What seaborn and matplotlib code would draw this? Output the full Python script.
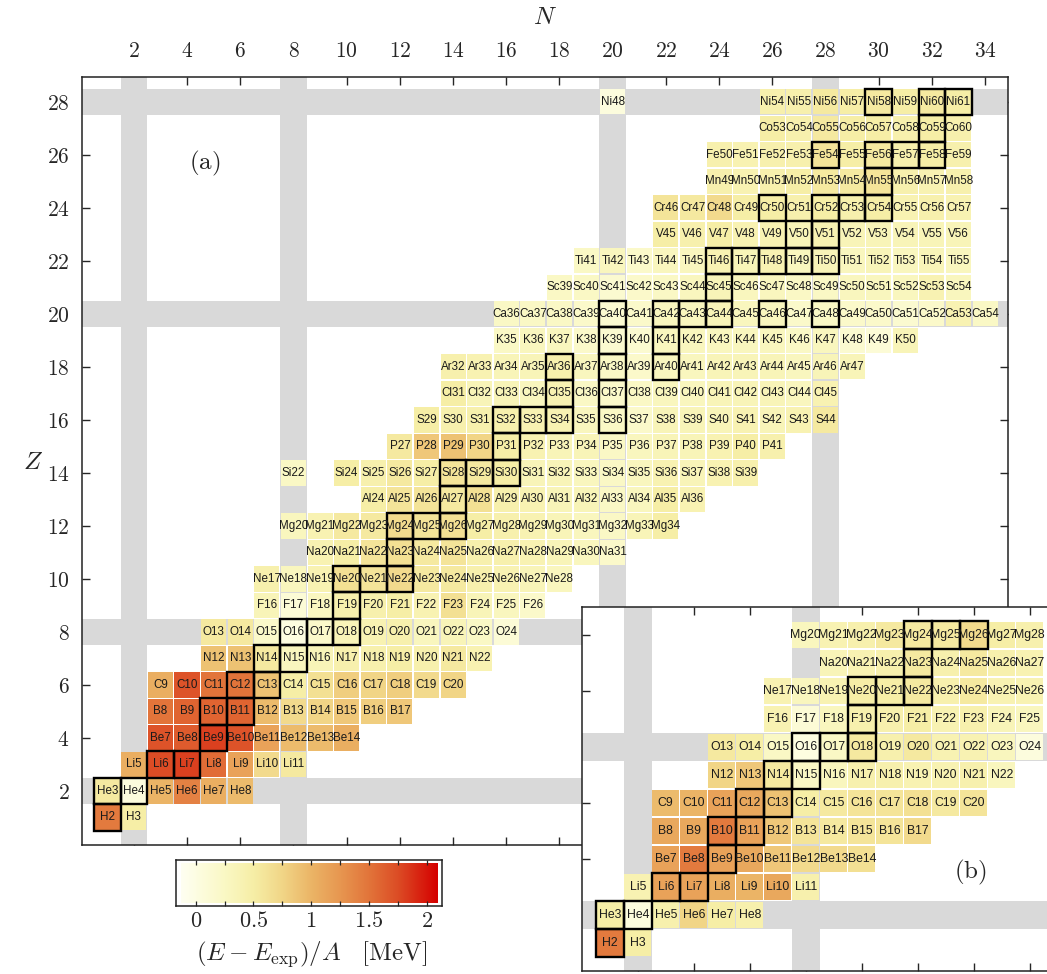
import numpy as np
import pandas as pd
import matplotlib
matplotlib.use("Agg")
import matplotlib.pyplot as plt
import seaborn as sns
from matplotlib.colors import LinearSegmentedColormap, Normalize
from matplotlib.patches import Rectangle

# ---- data -----------------------------------------------------------------
SYMBOLS = ["H", "He", "Li", "Be", "B", "C", "N", "O", "F", "Ne", "Na", "Mg", "Al", "Si",
           "P", "S", "Cl", "Ar", "K", "Ca", "Sc", "Ti", "V", "Cr", "Mn", "Fe", "Co", "Ni"]

# panel (a): first neutron number of each isotope chain (Z = 1..28)
main_first_N = [1, 1, 2, 3, 3, 3, 5, 5, 7, 7, 9, 8, 11, 10, 12, 13, 14, 14, 16, 16,
                18, 19, 22, 22, 24, 24, 26, 26]
# (E - Eexp)/A in MeV
main_values = [
    [1.45, 0.5],                                                        # H
    [0.55, 0.05, 1.0, 1.4, 1.05, 0.95],                                 # He
    [1.05, 1.75, 1.8, 1.55, 1.15, 0.7, 0.55],                           # Li
    [1.7, 1.65, 1.8, 1.7, 1.15, 0.95, 0.95, 1.05],                      # Be
    [1.5, 1.6, 1.6, 1.6, 0.95, 0.7, 0.75, 0.85, 0.8, 0.85],             # B
    [1.05, 1.7, 1.5, 1.5, 0.9, 0.5, 0.65, 0.8, 0.75, 0.8, 0.7, 0.75],   # C
    [0.9, 0.9, 0.55, 0.3, 0.35, 0.45, 0.45, 0.5, 0.45, 0.55, 0.4],      # N
    [0.55, 0.55, 0.2, 0.02, 0.2, 0.35, 0.4, 0.45, 0.3, 0.35, 0.25, 0.1],  # O
    [0.35, 0.1, 0.28, 0.45, 0.45, 0.5, 0.4, 0.65, 0.35, 0.3, 0.2],      # F
    [0.45, 0.3, 0.4, 0.65, 0.6, 0.7, 0.55, 0.55, 0.45, 0.4, 0.35, 0.3],  # Ne
    [0.4, 0.5, 0.6, 0.65, 0.55, 0.6, 0.45, 0.45, 0.4, 0.35, 0.3, 0.2],  # Na
    [0.3, 0.4, 0.55, 0.55, 0.7, 0.6, 0.65, 0.5, 0.45, 0.4, 0.35, 0.3, 0.25, 0.35, 0.5],  # Mg
    [0.5, 0.6, 0.6, 0.55, 0.65, 0.45, 0.4, 0.35, 0.35, 0.25, 0.3, 0.5, 0.4],  # Al
    [0.5, 0.45, 0.55, 0.5, 0.6, 0.55, 0.5, 0.35, 0.35, 0.3, 0.25, 0.3, 0.4, 0.35, 0.4, 0.45],  # Si
    [0.55, 0.85, 0.9, 0.75, 0.5, 0.4, 0.35, 0.35, 0.25, 0.3, 0.35, 0.35, 0.4, 0.5, 0.45],  # P
    [0.5, 0.45, 0.45, 0.45, 0.4, 0.4, 0.3, 0.25, 0.2, 0.35, 0.35, 0.35, 0.4, 0.35, 0.4, 0.55],  # S
    [0.5, 0.35, 0.35, 0.3, 0.4, 0.25, 0.2, 0.25, 0.3, 0.3, 0.35, 0.35, 0.35, 0.3, 0.4],  # Cl
    [0.45, 0.4, 0.35, 0.35, 0.45, 0.3, 0.25, 0.2, 0.3, 0.3, 0.35, 0.35, 0.35, 0.3, 0.35, 0.35],  # Ar
    [0.25, 0.3, 0.3, 0.2, 0.15, 0.15, 0.3, 0.3, 0.3, 0.3, 0.3, 0.25, 0.3, 0.15, 0.1, 0.35],  # K
    [0.25, 0.25, 0.25, 0.2, 0.15, 0.2, 0.3, 0.3, 0.35, 0.3, 0.3, 0.2, 0.25, 0.2, 0.2, 0.15,
     0.2, 0.4, 0.25],                                                   # Ca
    [0.25, 0.25, 0.15, 0.2, 0.25, 0.3, 0.35, 0.3, 0.3, 0.25, 0.25, 0.3, 0.3, 0.3, 0.4, 0.3],  # Sc
    [0.25, 0.3, 0.2, 0.3, 0.3, 0.4, 0.35, 0.4, 0.3, 0.35, 0.3, 0.35, 0.3, 0.35, 0.3],  # Ti
    [0.5, 0.45, 0.5, 0.4, 0.4, 0.35, 0.4, 0.35, 0.35, 0.35, 0.35, 0.35],  # V
    [0.6, 0.55, 0.7, 0.5, 0.5, 0.45, 0.5, 0.45, 0.5, 0.4, 0.45, 0.4],   # Cr
    [0.45, 0.4, 0.45, 0.5, 0.55, 0.55, 0.6, 0.45, 0.4, 0.45],           # Mn
    [0.45, 0.4, 0.45, 0.45, 0.6, 0.5, 0.55, 0.45, 0.5, 0.45],           # Fe
    [0.5, 0.45, 0.55, 0.5, 0.5, 0.45, 0.5, 0.45],                       # Co
    [0.45, 0.45, 0.55, 0.5, 0.55, 0.5, 0.55, 0.5],                      # Ni
]
# isolated nuclei outside the chains: (Z, N, value)
main_extra = [(14, 8, 0.25), (28, 20, 0.05)]

# panel (b): Z = 1..12
inset_first_N = [1, 1, 2, 3, 3, 3, 5, 5, 7, 7, 9, 8]
inset_values = [
    [1.45, 0.5],
    [0.5, 0.05, 0.45, 0.75, 0.5, 0.45],
    [0.4, 1.15, 1.15, 1.05, 1.0, 1.1, 0.45],
    [1.15, 1.45, 1.15, 1.1, 0.85, 0.7, 0.7, 0.65],
    [1.1, 1.1, 1.45, 1.15, 0.85, 0.6, 0.55, 0.6, 0.6, 0.7],
    [0.95, 1.0, 1.15, 1.1, 0.9, 0.5, 0.55, 0.6, 0.6, 0.65, 0.55, 0.6],
    [0.75, 0.85, 0.55, 0.25, 0.3, 0.45, 0.45, 0.4, 0.4, 0.45, 0.3],
    [0.55, 0.5, 0.25, 0.02, 0.25, 0.55, 0.45, 0.55, 0.4, 0.4, 0.3, 0.05],
    [0.4, 0.1, 0.3, 0.45, 0.45, 0.5, 0.4, 0.45, 0.35, 0.3],
    [0.4, 0.3, 0.4, 0.5, 0.5, 0.55, 0.45, 0.55, 0.4, 0.4],
    [0.35, 0.4, 0.45, 0.55, 0.45, 0.55, 0.45, 0.4],
    [0.3, 0.4, 0.45, 0.55, 0.55, 0.55, 0.7, 0.5, 0.45],
]

STABLE = ["H2", "He3", "He4", "Li6", "Li7", "Be9", "B10", "B11", "C12", "C13", "N14", "N15",
          "O16", "O17", "O18", "F19", "Ne20", "Ne21", "Ne22", "Na23", "Mg24", "Mg25", "Mg26",
          "Al27", "Si28", "Si29", "Si30", "P31", "S32", "S33", "S34", "S36", "Cl35", "Cl37",
          "Ar36", "Ar38", "Ar40", "K39", "K41", "Ca40", "Ca42", "Ca43", "Ca44", "Ca46", "Ca48",
          "Sc45", "Ti46", "Ti47", "Ti48", "Ti49", "Ti50", "V50", "V51", "Cr50", "Cr52", "Cr53",
          "Cr54", "Mn55", "Fe54", "Fe56", "Fe57", "Fe58", "Co59", "Ni58", "Ni60", "Ni61"]
MAGIC = [2, 8, 20, 28]

VMIN, VMAX = -0.13, 2.09
cb_values = [VMIN, 0.0, 0.25, 0.5, 0.75, 1.0, 1.25, 1.5, 1.75, VMAX]
cb_colors = ["#fffff2", "#fdfde2", "#faf8c4", "#f6eea6", "#f1d586", "#ebb466",
             "#e79650", "#e2743a", "#dc4c25", "#d50000"]


def build_table(first_N, values, extra=()):
    rows = []
    for z, (n0, vals) in enumerate(zip(first_N, values), start=1):
        for k, v in enumerate(vals):
            rows.append((z, n0 + k, v))
    rows.extend(extra)
    df = pd.DataFrame(rows, columns=["Z", "N", "dE"])
    df["label"] = [f"{SYMBOLS[z - 1]}{z + n}" for z, n in zip(df.Z, df.N)]
    return df


# ---- style ----------------------------------------------------------------
sns.set_style("white")
plt.rcParams.update({
    "font.family": ["Liberation Sans", "DejaVu Sans"],
    "mathtext.fontset": "cm",
    "axes.linewidth": 1.1,
})

cmap = LinearSegmentedColormap.from_list(
    "dE", [((v - VMIN) / (VMAX - VMIN), c) for v, c in zip(cb_values, cb_colors)])
norm = Normalize(VMIN, VMAX)


def draw_chart(ax, df, marker_s, fs):
    for m in MAGIC:
        ax.axvspan(m - 0.5, m + 0.5, color="#d9d9d9", lw=0, zorder=2.6)
        ax.axhspan(m - 0.5, m + 0.5, color="#d9d9d9", lw=0, zorder=2.6)
    sns.scatterplot(data=df, x="N", y="Z", hue="dE", palette=cmap, hue_norm=norm,
                    marker="s", s=marker_s, linewidth=0, legend=False, ax=ax, zorder=3)
    for _, r in df.iterrows():
        ax.text(r.N, r.Z, r.label, ha="center", va="center", fontsize=fs,
                color="#1a1a1a", zorder=5, clip_on=True)
        if r.label in STABLE:
            ax.add_patch(Rectangle((r.N - 0.5, r.Z - 0.5), 1, 1, fill=False,
                                   ec="black", lw=1.7, zorder=4, clip_on=True))
    for sp in ax.spines.values():
        sp.set_zorder(6)
        sp.set_color("#222222")
    ax.set_xlabel("")
    ax.set_ylabel("")


df_a = build_table(main_first_N, main_values, main_extra)
df_b = build_table(inset_first_N, inset_values)

W, H = 1047, 974
fig = plt.figure(figsize=(W / 100, H / 100), dpi=100)

# ---- panel (a) ------------------------------------------------------------
ax = fig.add_axes([82 / W, 1 - 845 / H, 926 / W, 768 / H])
draw_chart(ax, df_a, 328, 8.4)
ax.set_xlim(0.05, 34.86)
ax.set_ylim(-0.04, 28.94)
xt = list(range(2, 35, 2))
yt = list(range(2, 29, 2))
ax.set_xticks(xt)
ax.set_xticklabels([f"${t}$" for t in xt])
ax.set_yticks(yt)
ax.set_yticklabels([f"${t}$" for t in yt])
ax.tick_params(axis="x", which="both", direction="in", length=6, width=1,
               top=True, bottom=True, labeltop=True, labelbottom=False,
               labelsize=15.5, pad=11)
ax.tick_params(axis="y", which="both", direction="in", length=6, width=1,
               left=True, right=True, labelleft=True, labelright=False,
               labelsize=15.5, pad=9)
fig.text(205 / W, 1 - 163 / H, r"$\mathrm{(a)}$", fontsize=18, ha="center", va="center")
fig.text(545 / W, 1 - 17 / H, "$N$", fontsize=18, ha="center", va="center")
fig.text(33 / W, 1 - 462 / H, "$Z$", fontsize=18, ha="center", va="center")

# ---- panel (b) inset --------------------------------------------------------
axb = fig.add_axes([581.7 / W, 1 - 971 / H, 17 * 28 / W, 13 * 28 / H])
axb.set_facecolor("white")
draw_chart(axb, df_b, 364, 8.8)
axb.set_xlim(0, 17)
axb.set_ylim(0, 13)
axb.set_xticks(list(range(2, 17, 2)))
axb.set_yticks(list(range(2, 13, 2)))
axb.tick_params(which="both", direction="in", length=6, width=1,
                top=True, bottom=True, left=True, right=True,
                labelbottom=False, labelleft=False)
fig.text(970 / W, 1 - 872 / H, r"$\mathrm{(b)}$", fontsize=18, ha="center", va="center")

# ---- colour bar ------------------------------------------------------------
cax = fig.add_axes([175.7 / W, 1 - 905.7 / H, 266.6 / W, 45.7 / H])
grad = np.linspace(VMIN, VMAX, 512)[None, :]
cax.imshow(grad, cmap=cmap, norm=norm, aspect="auto",
           extent=[VMIN, VMAX, 0.0, 1.0], origin="lower")
cax.set_xlim(-0.173, 2.135)
cax.set_ylim(-0.08, 1.08)
cax.set_yticks([])
cb_ticks = [0, 0.5, 1, 1.5, 2]
cax.set_xticks(cb_ticks)
cax.set_xticklabels(["$0$", "$0.5$", "$1$", "$1.5$", "$2$"])
cax.set_xticks(np.arange(0, 2.01, 0.25), minor=True)
cax.tick_params(axis="x", which="both", direction="in", top=True, bottom=True,
                length=3.5, width=0.9, labelsize=16, pad=4)
for sp in cax.spines.values():
    sp.set_color("#222222")
fig.text(312 / W, 1 - 954 / H, r"$(E-E_{\mathrm{exp}})/A\quad[\mathrm{MeV}]$",
         fontsize=18, ha="center", va="center")

fig.savefig("out.png", dpi=100)
